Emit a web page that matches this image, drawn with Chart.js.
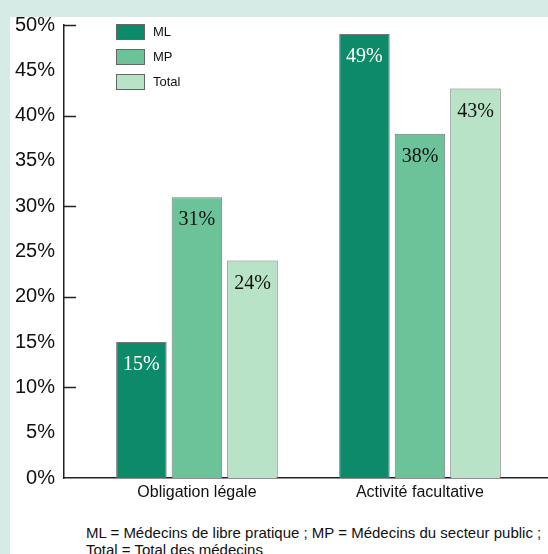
<!DOCTYPE html>
<html>
<head>
<meta charset="utf-8">
<script src="https://cdn.jsdelivr.net/npm/chart.js@4.4.0/dist/chart.umd.min.js"></script>
<style>
  html, body { margin: 0; padding: 0; }
  body { width: 548px; height: 554px; background: #d6ebe5; position: relative; overflow: hidden;
         font-family: "Liberation Sans", Arial, sans-serif; }
  #panel { position: absolute; left: 10px; top: 17px; right: 0; bottom: 0; background: #fff; }
  #wrap { position: absolute; left: 10px; top: 0; width: 538px; height: 510px; }
  #note { position: absolute; left: 86px; top: 524px; font-size: 15px; line-height: 17px; color: #111; white-space: nowrap; }
</style>
</head>
<body>
<div id="panel"></div>
<div id="wrap"><canvas id="chart"></canvas></div>
<div id="note">ML = Médecins de libre pratique ; MP = Médecins du secteur public ;<br>Total = Total des médecins</div>

<script>
// ─── DATA ─────────────────────────────────────────────────────
const categories  = ['Obligation légale', 'Activité facultative'];
const seriesNames = ['ML', 'MP', 'Total'];
const mlValues    = [15, 49];
const mpValues    = [31, 38];
const totalValues = [24, 43];
const yMax = 50, yStep = 5, majorStep = 10;

const fills       = ['#0d8a6a', '#6cc39a', '#b8e3c6'];
const labelColors = ['#ffffff', '#111111', '#111111'];

const toPoints = vals => vals.map((v, i) => ({ x: i, y: v }));

// ─── EXTRA DRAWING: inward ticks, value labels, legend ────────
const decorations = {
  id: 'decorations',
  afterDatasetsDraw(chart) {
    const { ctx, chartArea, scales: { y } } = chart;
    ctx.save();

    ctx.strokeStyle = '#222'; ctx.lineWidth = 1.5;
    for (let v = majorStep; v <= yMax; v += majorStep) {
      const py = Math.round(y.getPixelForValue(v)) + 0.5;
      ctx.beginPath(); ctx.moveTo(chartArea.left, py); ctx.lineTo(chartArea.left + 12, py); ctx.stroke();
    }

    ctx.font = '20px "Liberation Serif", "Times New Roman", serif';
    ctx.textAlign = 'center'; ctx.textBaseline = 'middle';
    chart.data.datasets.forEach((ds, di) => {
      chart.getDatasetMeta(di).data.forEach((bar, i) => {
        ctx.fillStyle = labelColors[di];
        ctx.fillText(ds.data[i].y + '%', bar.x, bar.y + 23);
      });
    });

    const lx = chartArea.left + 52, ly = chartArea.top - 1;
    ctx.font = '13px "Liberation Sans", Arial, sans-serif';
    ctx.textAlign = 'left';
    chart.data.datasets.forEach((ds, di) => {
      const top = ly + di * 25;
      ctx.fillStyle = ds.backgroundColor;
      ctx.fillRect(lx, top, 29, 16);
      ctx.strokeStyle = '#666'; ctx.lineWidth = 1;
      ctx.strokeRect(lx + 0.5, top + 0.5, 28, 15);
      ctx.fillStyle = '#111';
      ctx.fillText(ds.label, lx + 37, top + 8);
    });
    ctx.restore();
  }
};

// ─── CHART ────────────────────────────────────────────────────
new Chart(document.getElementById('chart'), {
  type: 'bar',
  data: {
    datasets: [mlValues, mpValues, totalValues].map((vals, i) => ({
      label: seriesNames[i],
      data: toPoints(vals),
      backgroundColor: fills[i],
      borderColor: '#777',
      borderWidth: 1,
      categoryPercentage: 0.747,
      barPercentage: 0.91
    }))
  },
  options: {
    responsive: true, maintainAspectRatio: false, animation: false,
    layout: { padding: { top: 25, left: 0, right: 0, bottom: 0 } },
    plugins: { legend: { display: false }, tooltip: { enabled: false } },
    scales: {
      x: {
        type: 'linear', min: -0.596, max: 1.574, offset: false,
        grid: { display: false, drawTicks: false },
        border: { display: true, color: '#222', width: 1.5 },
        afterBuildTicks: s => { s.ticks = categories.map((_, i) => ({ value: i })); },
        afterFit: s => { s.height = 32; },
        ticks: {
          autoSkip: false, maxRotation: 0, padding: 5, color: '#111',
          font: { family: '"Liberation Sans", Arial, sans-serif', size: 16 },
          callback: v => categories[v]
        }
      },
      y: {
        min: 0, max: yMax,
        grid: { display: false, drawTicks: false },
        border: { display: true, color: '#222', width: 1.5 },
        afterFit: s => { s.width = 54; },
        ticks: {
          stepSize: yStep, padding: 9, color: '#111',
          font: { family: '"Liberation Sans", Arial, sans-serif', size: 20 },
          callback: v => v + '%'
        }
      }
    }
  },
  plugins: [decorations]
});
</script>
</body>
</html>
